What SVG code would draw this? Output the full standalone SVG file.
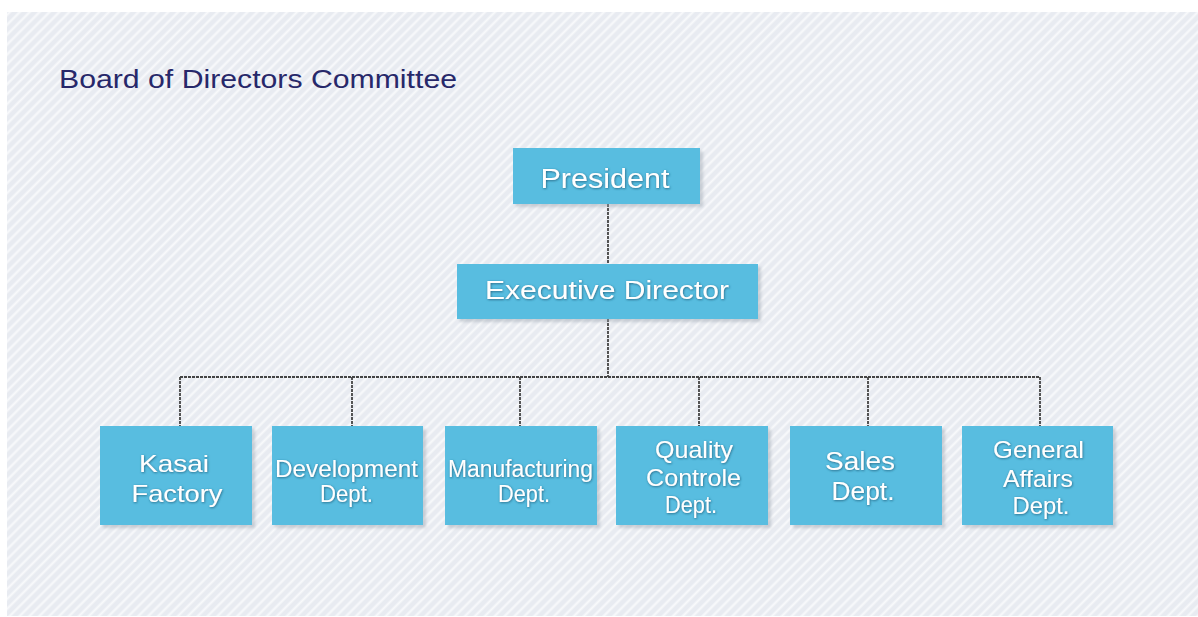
<svg xmlns="http://www.w3.org/2000/svg" width="1198" height="617" viewBox="0 0 1198 617">
<style>
.box{fill:#58bde0;}
.shadow{fill:#9aa3ad;opacity:0.45;}
.lbl{font-family:"Liberation Sans",Arial,sans-serif;fill:#ffffff;text-anchor:middle;filter:url(#ts);}
.conn{stroke:#444444;stroke-width:1.8;fill:none;stroke-dasharray:3 1;}
.title{font-family:"Liberation Sans",Arial,sans-serif;fill:#27286a;font-size:25px;}
</style>
<defs>
<pattern id="stripes" width="7" height="7" patternUnits="userSpaceOnUse" patternTransform="rotate(45)">
<rect width="7" height="7" fill="#e8ebf1"/>
<line x1="1.5" y1="0" x2="1.5" y2="7" stroke="#f8f9fb" stroke-width="2.2"/>
</pattern>
<filter id="ts" x="-10%" y="-30%" width="120%" height="160%">
<feDropShadow dx="0.6" dy="0.8" stdDeviation="0.8" flood-color="#1f5f7c" flood-opacity="0.9"/>
</filter>
<filter id="bs" x="-5%" y="-5%" width="115%" height="120%">
<feGaussianBlur stdDeviation="1.5"/>
</filter>
</defs>
<rect x="0" y="0" width="1198" height="617" fill="#ffffff"/>
<rect x="7" y="12" width="1191" height="604" fill="url(#stripes)"/>
<text class="title" x="59" y="88" textLength="398" lengthAdjust="spacingAndGlyphs">Board of Directors Committee</text>
<g id="connectors">
<line class="conn" x1="608" y1="204" x2="608" y2="264"/>
<line class="conn" x1="608" y1="319" x2="608" y2="377"/>
<line class="conn" x1="180" y1="377" x2="1040" y2="377"/>
<line class="conn" x1="180" y1="377" x2="180" y2="426"/>
<line class="conn" x1="352" y1="377" x2="352" y2="426"/>
<line class="conn" x1="520" y1="377" x2="520" y2="426"/>
<line class="conn" x1="699" y1="377" x2="699" y2="426"/>
<line class="conn" x1="868" y1="377" x2="868" y2="426"/>
<line class="conn" x1="1040" y1="377" x2="1040" y2="426"/>
</g>
<g id="president">
<rect class="shadow" x="516" y="151" width="187" height="56" filter="url(#bs)"/>
<rect class="box" x="513" y="148" width="187" height="56"/>
<text class="lbl" x="605" y="188" font-size="27" textLength="129" lengthAdjust="spacingAndGlyphs">President</text>
</g>
<g id="executive-director">
<rect class="shadow" x="460" y="267" width="301" height="55" filter="url(#bs)"/>
<rect class="box" x="457" y="264" width="301" height="55"/>
<text class="lbl" x="607" y="299" font-size="26" textLength="244" lengthAdjust="spacingAndGlyphs">Executive Director</text>
</g>
<g id="kasai-factory">
<rect class="shadow" x="103" y="429" width="152" height="99" filter="url(#bs)"/>
<rect class="box" x="100" y="426" width="152" height="99"/>
<text class="lbl" x="174" y="472" font-size="24" textLength="70" lengthAdjust="spacingAndGlyphs">Kasai</text>
<text class="lbl" x="177" y="502" font-size="24" textLength="91" lengthAdjust="spacingAndGlyphs">Factory</text>
</g>
<g id="development-dept">
<rect class="shadow" x="275" y="429" width="151" height="99" filter="url(#bs)"/>
<rect class="box" x="272" y="426" width="151" height="99"/>
<text class="lbl" x="346.5" y="477" font-size="24" textLength="143" lengthAdjust="spacingAndGlyphs">Development</text>
<text class="lbl" x="346.5" y="502" font-size="24" textLength="53" lengthAdjust="spacingAndGlyphs">Dept.</text>
</g>
<g id="manufacturing-dept">
<rect class="shadow" x="448" y="429" width="152" height="99" filter="url(#bs)"/>
<rect class="box" x="445" y="426" width="152" height="99"/>
<text class="lbl" x="520.5" y="477" font-size="23" textLength="145" lengthAdjust="spacingAndGlyphs">Manufacturing</text>
<text class="lbl" x="524" y="502" font-size="23" textLength="52" lengthAdjust="spacingAndGlyphs">Dept.</text>
</g>
<g id="quality-controle-dept">
<rect class="shadow" x="619" y="429" width="152" height="99" filter="url(#bs)"/>
<rect class="box" x="616" y="426" width="152" height="99"/>
<text class="lbl" x="694" y="458" font-size="24" textLength="78" lengthAdjust="spacingAndGlyphs">Quality</text>
<text class="lbl" x="693.5" y="486" font-size="24" textLength="95" lengthAdjust="spacingAndGlyphs">Controle</text>
<text class="lbl" x="691" y="513" font-size="24" textLength="52" lengthAdjust="spacingAndGlyphs">Dept.</text>
</g>
<g id="sales-dept">
<rect class="shadow" x="793" y="429" width="152" height="99" filter="url(#bs)"/>
<rect class="box" x="790" y="426" width="152" height="99"/>
<text class="lbl" x="860" y="470" font-size="25" textLength="70" lengthAdjust="spacingAndGlyphs">Sales</text>
<text class="lbl" x="863" y="500" font-size="25" textLength="63" lengthAdjust="spacingAndGlyphs">Dept.</text>
</g>
<g id="general-affairs-dept">
<rect class="shadow" x="965" y="429" width="151" height="99" filter="url(#bs)"/>
<rect class="box" x="962" y="426" width="151" height="99"/>
<text class="lbl" x="1038.5" y="458" font-size="24" textLength="91" lengthAdjust="spacingAndGlyphs">General</text>
<text class="lbl" x="1038" y="487" font-size="24" textLength="70" lengthAdjust="spacingAndGlyphs">Affairs</text>
<text class="lbl" x="1041" y="514" font-size="24" textLength="57" lengthAdjust="spacingAndGlyphs">Dept.</text>
</g>
</svg>
